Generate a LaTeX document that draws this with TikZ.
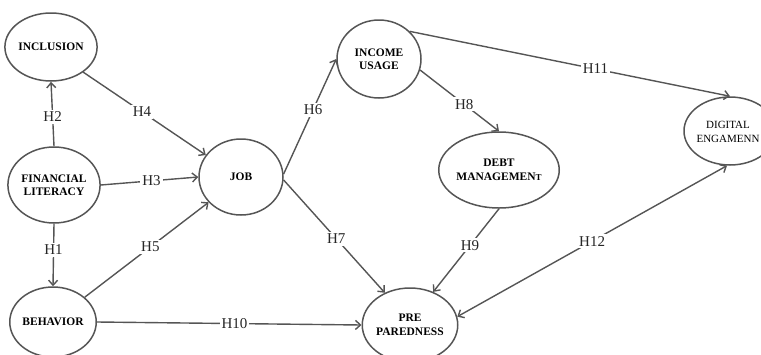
\documentclass[tikz,border=0pt]{standalone}
\usepackage{fontspec}
\setmainfont{Liberation Serif}
\usetikzlibrary{shapes.geometric,arrows.meta}
\definecolor{lc}{HTML}{555555}
\tikzset{
  cons/.style={ellipse, draw=lc, line width=1.5pt, inner sep=0pt, align=center,
    font=\fontsize{11.5}{13.5}\selectfont\bfseries},
  link/.style={draw=lc, line width=1.4pt, -{Straight Barb[length=5pt,width=9pt]}},
  blink/.style={draw=lc, line width=1.4pt, {Straight Barb[length=5pt,width=9pt]}-{Straight Barb[length=5pt,width=9pt]}},
  hl/.style={fill=white, inner sep=2pt, font=\fontsize{15}{15}\selectfont, text=black!85},
  plaintext/.style={align=center, inner sep=0pt, font=\fontsize{11}{13.5}\selectfont}
}
\begin{document}
\begin{tikzpicture}[x=1pt,y=-1pt]
\useasboundingbox (0,0) rectangle (761,354);
\node[cons, minimum width=84pt, minimum height=68pt] (inc) at (51,47) {INCLUSION};
\node[cons, minimum width=82pt, minimum height=76pt] (fl) at (54,185) {FINANCIAL\\LITERACY};
\node[cons, minimum width=86pt, minimum height=70pt] (beh) at (53,322) {BEHAVIOR};
\node[cons, minimum width=84pt, minimum height=76pt] (jb) at (241,177) {JOB};
\node[cons, minimum width=84pt, minimum height=78pt] (iu) at (379,59) {INCOME\\USAGE};
\node[cons, minimum width=88pt, minimum height=76pt] (dm) at (499,170) {DEBT\\MANAGEMEN{\fontsize{9}{9}\selectfont T}};
\node[cons, minimum width=92pt, minimum height=68pt] (de) at (730,131) {};
\node[plaintext] (det) at (728,132) {DIGITAL\\ENGAMENN};
\node[cons, minimum width=82pt, minimum height=74pt] (pp) at (410,325) {PRE\\PAREDNESS};

\draw[link] (fl.north) -- node[hl, pos=0.46] {H2} (inc.south);
\draw[link] (fl.south) -- node[hl, pos=0.42] {H1} (beh.north);
\draw[link] (fl.east) -- node[hl, pos=0.52] {H3} (jb.west);
\draw[link] (inc.-38) -- node[hl, pos=0.48] {H4} (jb.148);
\draw[link] (beh.38) -- node[hl, pos=0.53] {H5} (jb.-142);
\draw[link] (beh.east) -- node[hl, pos=0.52] {H10} (pp.west);
\draw[link] (jb.4) -- node[hl, pos=0.56] {H6} (iu.west);
\draw[link] (jb.-4) -- node[hl, pos=0.52] {H7} (pp.128);
\draw[link] (iu.-15) -- node[hl, pos=0.56] {H8} (dm.north);
\draw[link] (dm.south) -- node[hl, pos=0.44] {H9} (pp.55);
\draw[link] (iu.42) -- node[hl, pos=0.58] {H11} (de.north);
\draw[blink] (de.-95) -- node[hl, pos=0.5] {H12} (pp.10);
\end{tikzpicture}
\end{document}
